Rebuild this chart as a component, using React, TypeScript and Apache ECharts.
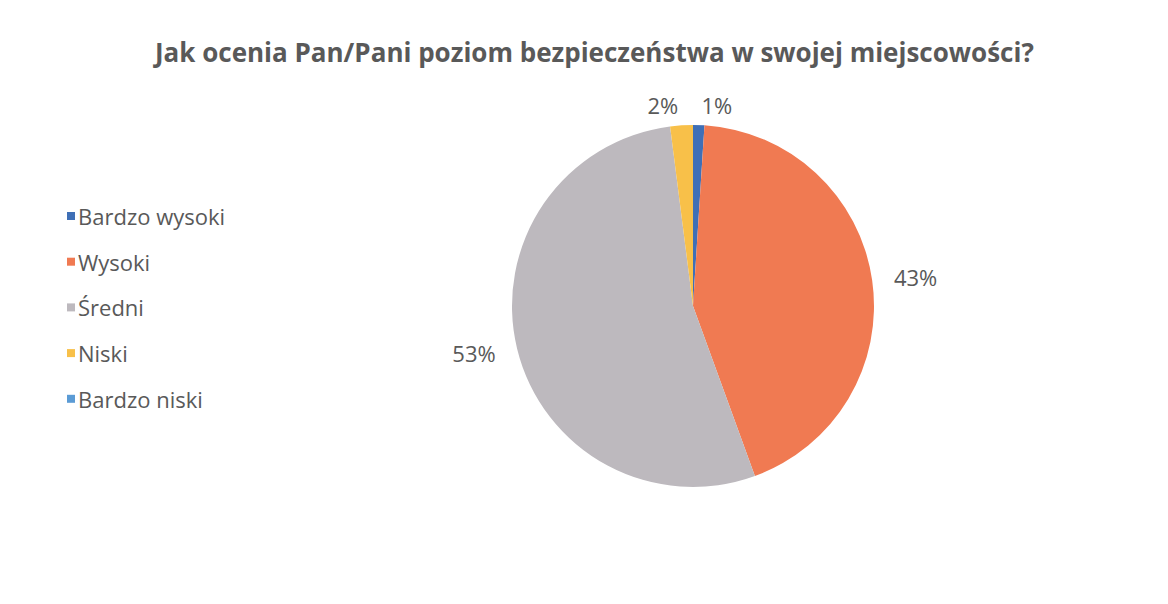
import React, { useEffect, useRef } from "react";
import * as echarts from "echarts";

const TITLE = "Jak ocenia Pan/Pani poziom bezpieczeństwa w swojej miejscowości?";
const categories = ["Bardzo wysoki", "Wysoki", "Średni", "Niski", "Bardzo niski"];
const values = [1, 43, 53, 2, 0];
const colors = ["#3F6FB6", "#F07A52", "#BDB9BE", "#F8C049", "#5B9BD5"];

export default function App() {
  const ref = useRef<HTMLDivElement>(null);
  useEffect(() => {
    if (!ref.current) return;
    const chart = echarts.init(ref.current, undefined, { renderer: "svg" });
    const textColor = "#595959";
    chart.setOption({
      animation: false,
      backgroundColor: "#ffffff",
      title: {
        text: TITLE,
        left: 150,
        top: 34,
        textStyle: {
          fontFamily: "Open Sans",
          fontWeight: "bold",
          fontSize: 26,
          color: textColor,
        },
      },
      legend: {
        orient: "vertical",
        left: 62,
        top: 199,
        itemWidth: 8,
        itemHeight: 8,
        itemGap: 21.7,
        icon: "rect",
        data: categories,
        textStyle: {
          fontFamily: "Open Sans",
          fontSize: 22,
          lineHeight: 24,
          color: textColor,
          padding: [0, 0, 0, -2],
        },
      },
      series: [
        {
          type: "pie",
          center: [693, 306],
          radius: 181,
          startAngle: 90,
          clockwise: true,
          avoidLabelOverlap: false,
          data: categories.map((name, i) => ({
            name,
            value: values[i],
            itemStyle: { color: colors[i] },
          })),
          label: {
            show: true,
            position: "outside",
            distanceToLabelLine: 2,
            fontFamily: "Open Sans",
            fontSize: 22,
            color: textColor,
            formatter: (p: any) => (p.value > 0 ? p.value + "%" : ""),
          },
          labelLine: { show: false, length: 20, length2: 0 },
          emphasis: { disabled: true },
        },
      ],
    });
    return () => chart.dispose();
  }, []);
  return (
    <div
      ref={ref}
      style={{ position: "absolute", left: 0, top: 0, width: 1168, height: 604 }}
    />
  );
}
